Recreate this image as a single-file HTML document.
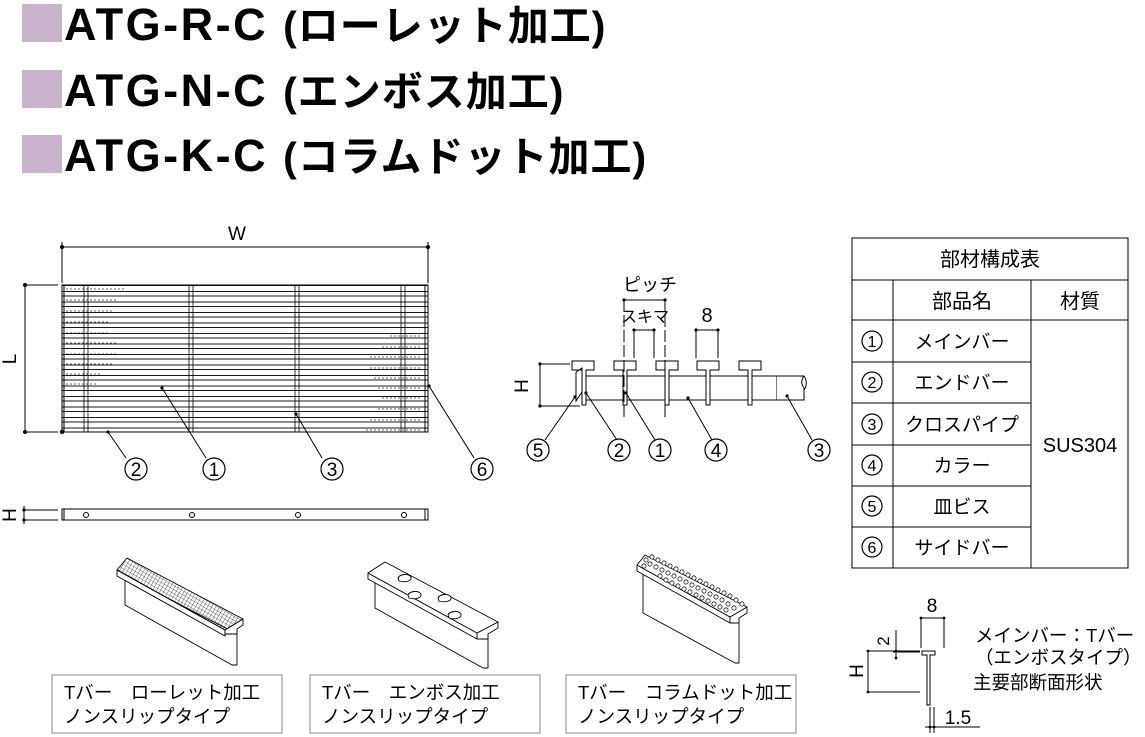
<!DOCTYPE html>
<html><head><meta charset="utf-8"><style>
body{margin:0;background:#fff;width:1145px;height:737px;overflow:hidden;font-family:"Liberation Sans","Noto Sans CJK JP",sans-serif}
svg{position:absolute;left:0;top:0}
</style></head><body>
<svg width="1145" height="737" viewBox="0 0 1145 737" font-family="Liberation Sans, Noto Sans CJK JP, sans-serif">
<defs>
<pattern id="bars" x="62" y="285" width="10" height="10.5" patternUnits="userSpaceOnUse">
<line x1="0" y1="0.5" x2="10" y2="0.5" stroke="#000" stroke-width="0.9"/>
<line x1="0" y1="6.5" x2="10" y2="6.5" stroke="#000" stroke-width="0.9"/>
</pattern>
<pattern id="hatch" width="3.5" height="3.5" patternUnits="userSpaceOnUse" patternTransform="rotate(30)">
<path d="M0 0H3.5M0 0V3.5" stroke="#000" stroke-width="0.6"/>
</pattern>
</defs>
<!-- titles -->
<g font-weight="bold" font-size="45" fill="#000">
<rect x="22" y="4" width="40" height="38" fill="#c9b3cc"/>
<text x="64" y="40" letter-spacing="2.5">ATG-R-C <tspan letter-spacing="1" font-size="41">(ローレット加工)</tspan></text>
<rect x="22" y="70" width="40" height="38" fill="#c9b3cc"/>
<text x="64" y="106" letter-spacing="2.5">ATG-N-C <tspan letter-spacing="1" font-size="41">(エンボス加工)</tspan></text>
<rect x="22" y="135" width="40" height="38" fill="#c9b3cc"/>
<text x="64" y="171" letter-spacing="2.5">ATG-K-C <tspan letter-spacing="1" font-size="41">(コラムドット加工)</tspan></text>
</g>
<g stroke="#000" fill="none" stroke-width="1">
<!-- plan view -->
<line x1="62" y1="247" x2="428" y2="247"/>
<line x1="62" y1="242" x2="62" y2="283"/><line x1="428" y1="242" x2="428" y2="283"/>
<line x1="25" y1="285" x2="58" y2="285"/><line x1="25" y1="432" x2="58" y2="432"/>
<line x1="25" y1="285" x2="25" y2="432"/>
<rect x="62" y="285" width="366" height="147" fill="url(#bars)"/>
<rect x="62" y="285" width="366" height="147"/>
<line x1="64" y1="285" x2="64" y2="432"/><line x1="425" y1="285" x2="425" y2="432"/>
<g stroke-width="0.8">
<line x1="84" y1="285" x2="84" y2="432"/><line x1="88" y1="285" x2="88" y2="432"/>
<line x1="189" y1="285" x2="189" y2="432"/><line x1="193" y1="285" x2="193" y2="432"/>
<line x1="295" y1="285" x2="295" y2="432"/><line x1="299" y1="285" x2="299" y2="432"/>
<line x1="401" y1="285" x2="401" y2="432"/><line x1="405" y1="285" x2="405" y2="432"/>
</g>
<g stroke-width="0.7" stroke-dasharray="2 2" opacity="0.8">
<path d="M66 289h58M66 300h50M66 311h48M66 322h42M66 333h44M66 343h50M66 354h52M66 364h48M66 374h36M66 384h30"/>
<path d="M420 336h-30M420 347h-40M420 357h-50M420 368h-52M420 378h-48M420 388h-44M420 398h-40M420 409h-42M420 420h-50M420 430h-55"/>
</g>
<!-- leaders -->
<line x1="108" y1="432" x2="126" y2="458"/>
<line x1="162" y1="388" x2="206" y2="458"/>
<line x1="296" y1="414" x2="322" y2="458"/>
<line x1="429" y1="386" x2="474" y2="458"/>
<!-- side view -->
<rect x="62" y="509" width="366" height="11"/>
<line x1="64" y1="509" x2="64" y2="520"/><line x1="425" y1="509" x2="425" y2="520"/>
<circle cx="86" cy="515" r="2.5"/><circle cx="192" cy="515" r="2.5"/><circle cx="298" cy="515" r="2.5"/><circle cx="404" cy="515" r="2.5"/>
<line x1="24" y1="510" x2="58" y2="510"/><line x1="24" y1="520" x2="58" y2="520"/><line x1="24" y1="506" x2="24" y2="524"/>
<!-- section -->
<rect x="585" y="376" width="192" height="24" fill="#fff"/>
<path d="M777 376h27c3 4 3 10 0 14l0 -2v12h-27" fill="#fff"/>
<path d="M804 376c-3 4 -3 8 0 12"/>
<g fill="#fff">
<path d="M572 361h22v9h-8v35h-4v-35h-10z"/>
<path d="M614 361h22v9h-9v35h-4v-35h-9z"/>
<path d="M656 361h22v9h-9v35h-4v-35h-9z"/>
<path d="M697 361h22v9h-9v35h-4v-35h-9z"/>
<path d="M739 361h22v9h-9v35h-4v-35h-9z"/>
</g>
<path d="M576 372v30M576 372l6 -4v24l-6 9"/>
<line x1="540" y1="364" x2="570" y2="364"/><line x1="540" y1="406" x2="580" y2="406"/><line x1="540" y1="364" x2="540" y2="406"/>
<line x1="624" y1="300" x2="624" y2="420" stroke-dasharray="12 3"/>
<line x1="665" y1="300" x2="665" y2="420" stroke-dasharray="12 3"/>
<line x1="624" y1="300" x2="665" y2="300"/>
<line x1="634" y1="330" x2="634" y2="358"/><line x1="654" y1="330" x2="654" y2="358"/><line x1="634" y1="330" x2="654" y2="330"/>
<line x1="696" y1="330" x2="696" y2="358"/><line x1="718" y1="330" x2="718" y2="358"/><line x1="696" y1="330" x2="718" y2="330"/>
<line x1="575" y1="397" x2="545" y2="440"/>
<line x1="586" y1="393" x2="617" y2="440"/>
<line x1="626" y1="393" x2="655" y2="440"/>
<line x1="688" y1="398" x2="712" y2="440"/>
<line x1="787" y1="396" x2="812" y2="440"/>
<!-- table -->
<rect x="852" y="238" width="276" height="330"/>
<line x1="852" y1="280" x2="1128" y2="280"/>
<line x1="852" y1="320" x2="1128" y2="320"/>
<line x1="893" y1="280" x2="893" y2="568"/>
<line x1="1031" y1="280" x2="1031" y2="568"/>
<path d="M852 362h179M852 403h179M852 445h179M852 486h179M852 527h179"/>
<!-- T-bar cross section -->
<path d="M922 651h13v4h-5v50h-3v-50h-5z" fill="#fff"/>
<line x1="921" y1="618" x2="921" y2="648"/><line x1="944" y1="618" x2="944" y2="648"/><line x1="921" y1="618" x2="944" y2="618"/>
<line x1="868" y1="651" x2="920" y2="651"/><line x1="868" y1="692" x2="920" y2="692"/><line x1="868" y1="651" x2="868" y2="692"/>
<line x1="893" y1="652" x2="920" y2="652"/><line x1="896" y1="630" x2="896" y2="658"/>
<line x1="930" y1="707" x2="930" y2="733"/><line x1="934" y1="707" x2="934" y2="733"/><line x1="925" y1="727" x2="980" y2="727"/>
<!-- boxes -->
<rect x="52" y="675" width="230" height="58" stroke="#888"/>
<rect x="310" y="675" width="230" height="58" stroke="#888"/>
<rect x="566" y="675" width="230" height="58" stroke="#888"/>
<!-- isometric bars -->
<g fill="#fff" stroke-linejoin="round" stroke-width="0.9">
<path d="M125 576V605L232 665H237V634L125 576z"/>
<path d="M117 570V576L225 636V630z"/>
<path d="M225 630L243 619V625L237 629V634H225z" />
<path d="M117 570L127 558L243 619L225 630z" fill="url(#hatch)"/>
<path d="M375 577V608L483 668H488V636L375 577z"/>
<path d="M368 573V579L477 639V633z"/>
<path d="M477 633L498 622V628L488 634V639H477z"/>
<path d="M368 573L385 562L498 622L477 633z"/>
<path d="M643 571V613L735 663H739V620L643 571z"/>
<path d="M637 565V571L730 623V617z"/>
<path d="M730 617L747 607V613L739 618V623H730z"/>
<path d="M637 565L645 555L747 607L730 617z"/>
</g>
<g fill="#fff" stroke-width="0.9">
<path d="M398 578c2 -4 10 -5 13 -1c1 4 -6 6 -12 4z"/>
<path d="M408 595c2 -4 10 -5 13 -1c1 4 -6 6 -12 4z"/>
<path d="M438 598c2 -4 10 -5 13 -1c1 4 -6 6 -12 4z"/>
<path d="M448 615c2 -4 10 -5 13 -1c1 4 -6 6 -12 4z"/>
</g>
<g fill="#fff" stroke-width="0.7">
<circle cx="646" cy="560" r="2.1"/><circle cx="652" cy="557" r="2.1"/><circle cx="658" cy="560" r="2.1"/><circle cx="644" cy="566" r="2.1"/><circle cx="650" cy="564" r="2.1"/><circle cx="664" cy="563" r="2.1"/><circle cx="656" cy="567" r="2.1"/><circle cx="662" cy="570" r="2.1"/><circle cx="670" cy="566" r="2.1"/><circle cx="668" cy="573" r="2.1"/><circle cx="676" cy="569" r="2.1"/><circle cx="674" cy="576" r="2.1"/><circle cx="682" cy="572" r="2.1"/><circle cx="680" cy="579" r="2.1"/><circle cx="688" cy="575" r="2.1"/><circle cx="686" cy="582" r="2.1"/><circle cx="694" cy="578" r="2.1"/><circle cx="692" cy="585" r="2.1"/><circle cx="700" cy="581" r="2.1"/><circle cx="698" cy="588" r="2.1"/><circle cx="706" cy="584" r="2.1"/><circle cx="704" cy="591" r="2.1"/><circle cx="712" cy="587" r="2.1"/><circle cx="710" cy="594" r="2.1"/><circle cx="718" cy="590" r="2.1"/><circle cx="716" cy="597" r="2.1"/><circle cx="724" cy="593" r="2.1"/><circle cx="722" cy="600" r="2.1"/><circle cx="730" cy="596" r="2.1"/><circle cx="728" cy="604" r="2.1"/><circle cx="736" cy="600" r="2.1"/><circle cx="734" cy="608" r="2.1"/><circle cx="742" cy="604" r="2.1"/><circle cx="660" cy="576" r="2.1"/><circle cx="666" cy="580" r="2.1"/><circle cx="672" cy="583" r="2.1"/><circle cx="678" cy="586" r="2.1"/><circle cx="684" cy="589" r="2.1"/><circle cx="690" cy="592" r="2.1"/><circle cx="696" cy="595" r="2.1"/><circle cx="702" cy="598" r="2.1"/><circle cx="708" cy="601" r="2.1"/><circle cx="714" cy="604" r="2.1"/><circle cx="720" cy="607" r="2.1"/><circle cx="726" cy="610" r="2.1"/>
</g>
<!-- circles for callouts -->
<g stroke-width="1.2">
<circle cx="136" cy="469" r="11"/><circle cx="214" cy="469" r="11"/><circle cx="332" cy="469" r="11"/><circle cx="482" cy="469" r="11"/>
<circle cx="538" cy="450" r="11"/><circle cx="619" cy="450" r="11"/><circle cx="660" cy="450" r="11"/><circle cx="716" cy="450" r="11"/><circle cx="819" cy="450" r="11"/>
<circle cx="872" cy="341" r="10"/><circle cx="872" cy="382" r="10"/><circle cx="872" cy="424" r="10"/><circle cx="872" cy="465" r="10"/><circle cx="872" cy="506" r="10"/><circle cx="872" cy="547" r="10"/>
</g>
</g>
<g fill="#000">
<circle cx="62" cy="247" r="2"/><circle cx="428" cy="247" r="2"/><circle cx="25" cy="285" r="2"/><circle cx="25" cy="432" r="2"/><circle cx="62" cy="432" r="2.2"/>
<circle cx="108" cy="432" r="1.6"/><circle cx="162" cy="388" r="1.6"/><circle cx="296" cy="414" r="1.6"/><circle cx="429" cy="386" r="1.6"/>
<circle cx="24" cy="510" r="1.6"/><circle cx="24" cy="520" r="1.6"/>
<circle cx="540" cy="364" r="1.6"/><circle cx="540" cy="406" r="1.6"/><circle cx="624" cy="300" r="1.6"/><circle cx="665" cy="300" r="1.6"/>
<circle cx="634" cy="330" r="1.6"/><circle cx="654" cy="330" r="1.6"/><circle cx="696" cy="330" r="1.6"/><circle cx="718" cy="330" r="1.6"/>
<circle cx="575" cy="397" r="1.6"/><circle cx="586" cy="393" r="1.6"/><circle cx="626" cy="393" r="1.6"/><circle cx="688" cy="398" r="1.6"/><circle cx="787" cy="396" r="1.6"/>
<circle cx="921" cy="618" r="1.4"/><circle cx="944" cy="618" r="1.4"/><circle cx="868" cy="651" r="1.4"/><circle cx="868" cy="692" r="1.4"/><circle cx="896" cy="651" r="1.4"/><circle cx="896" cy="658" r="1.4"/><circle cx="930" cy="727" r="1.4"/><circle cx="934" cy="727" r="1.4"/>
</g>
<g font-size="19" text-anchor="middle" fill="#000">
<text x="237" y="240">W</text>
<text x="10" y="359" transform="rotate(-90 10 359)" dy="6">L</text>
<text x="10" y="515" transform="rotate(-90 10 515)" dy="6">H</text>
<text x="522" y="386" transform="rotate(-90 522 386)" dy="6">H</text>
<text x="136" y="476">2</text><text x="214" y="476">1</text><text x="332" y="476">3</text><text x="482" y="476">6</text>
<text x="538" y="457">5</text><text x="619" y="457">2</text><text x="660" y="457">1</text><text x="716" y="457">4</text><text x="819" y="457">3</text>
<text x="650" y="291" font-size="18">ピッチ</text>
<text x="645" y="322" font-size="16">スキマ</text>
<text x="707" y="322" font-size="20">8</text>
<text x="932" y="612" font-size="19">8</text>
<text x="884" y="641" font-size="17" transform="rotate(-90 884 641)" dy="5">2</text>
<text x="857" y="671" transform="rotate(-90 857 671)" dy="6">H</text>
<text x="958" y="724" font-size="19">1.5</text>
</g>
<g font-size="19" text-anchor="middle" fill="#000">
<text x="872" y="347" font-size="16">1</text><text x="872" y="388" font-size="16">2</text><text x="872" y="430" font-size="16">3</text><text x="872" y="471" font-size="16">4</text><text x="872" y="512" font-size="16">5</text><text x="872" y="553" font-size="16">6</text>
<text x="990" y="266" font-size="20">部材構成表</text>
<text x="962" y="308" font-size="20">部品名</text>
<text x="1080" y="308" font-size="20">材質</text>
<text x="962" y="348">メインバー</text>
<text x="962" y="389">エンドバー</text>
<text x="962" y="431">クロスパイプ</text>
<text x="962" y="472">カラー</text>
<text x="962" y="513">皿ビス</text>
<text x="962" y="554">サイドバー</text>
<text x="1080" y="452" font-size="20">SUS304</text>
</g>
<g font-size="18.5" fill="#000">
<text x="975" y="642">メインバー：Tバー</text>
<text x="975" y="664">（エンボスタイプ）</text>
<text x="973" y="689">主要部断面形状</text>
<text x="64" y="699">Tバー　ローレット加工</text>
<text x="64" y="723">ノンスリップタイプ</text>
<text x="322" y="699">Tバー　エンボス加工</text>
<text x="322" y="723">ノンスリップタイプ</text>
<text x="578" y="699">Tバー　コラムドット加工</text>
<text x="578" y="723">ノンスリップタイプ</text>
</g>
</svg>
</body></html>
